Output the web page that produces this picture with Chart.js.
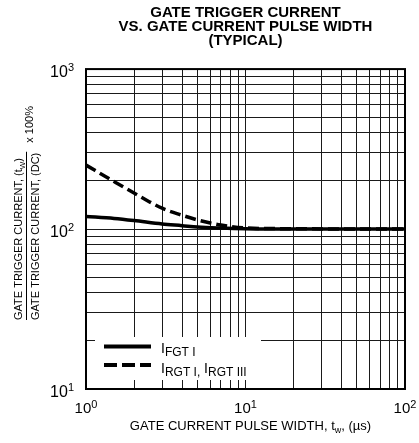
<!DOCTYPE html>
<html>
<head>
<meta charset="utf-8">
<script src="https://cdn.jsdelivr.net/npm/chart.js@4.4.1/dist/chart.umd.min.js"></script>
<style>
  html, body { margin: 0; padding: 0; background: #fff; }
  #wrap { width: 419px; height: 443px; }
</style>
</head>
<body>
<div id="wrap"><canvas id="c" width="419" height="443"></canvas></div>
<script>
// ---- data ----
const pulseWidth = [1, 1.5, 2, 3, 4, 5, 7, 10, 20, 50, 100];             // t_w (µs)
const fgtI       = [120, 116.5, 113, 107.5, 105, 103, 101.5, 100.5, 100, 100, 100];   // I_FGT I  (%)
const rgtI_III   = [251, 198, 168, 135, 122, 114, 106, 101.5, 100.5, 100, 100];       // I_RGT I, I_RGT III (%)

const xGridValues = [1, 2, 3, 4, 5, 6, 7, 8, 9, 10, 20, 30, 40, 50, 60, 70, 80, 90, 100];
const yGridValues = [10, 20, 30, 40, 50, 60, 70, 80, 90, 100, 200, 300, 400, 500, 600, 700, 800, 900, 1000];

const xTickValues = [1, 10, 100];
const xTickLabels = [['10', '0'], ['10', '1'], ['10', '2']];
const yTickValues = [10, 100, 1000];
const yTickLabels = [['10', '1'], ['10', '2'], ['10', '3']];

const titleLines = ['GATE TRIGGER CURRENT', 'VS. GATE CURRENT PULSE WIDTH', '(TYPICAL)'];
const legendLabels = [
  [['I', 'main'], ['FGT I', 'sub']],
  [['I', 'main'], ['RGT I,', 'sub'], [' I', 'main'], ['RGT III', 'sub']]
];
// ---------------------------------------

const FONT = '"Liberation Sans", Arial, Helvetica, sans-serif';

function drawRich(ctx, parts, x, y, align) {
  let w = 0;
  parts.forEach(p => { ctx.font = p.s + 'px ' + FONT; p.w = ctx.measureText(p.t).width; w += p.w; });
  let cx = align === 'center' ? x - w / 2 : (align === 'right' ? x - w : x);
  ctx.textAlign = 'left';
  ctx.textBaseline = 'alphabetic';
  parts.forEach(p => {
    ctx.font = p.s + 'px ' + FONT;
    ctx.fillText(p.t, cx, y + (p.dy || 0));
    cx += p.w;
  });
  return w;
}

const decorPlugin = {
  id: 'decor',
  afterDatasetsDraw(chart) {
    const ctx = chart.ctx;
    const a = chart.chartArea;
    const xs = chart.scales.x, ys = chart.scales.y;
    ctx.save();
    ctx.fillStyle = '#000';
    ctx.strokeStyle = '#000';

    // legend box
    const bx = a.left + 9, by = a.bottom - 52, bw = 166, bh = 43;
    ctx.fillStyle = '#fff';
    ctx.fillRect(bx, by, bw, bh);
    ctx.fillStyle = '#000';
    ctx.lineWidth = 4;
    ctx.lineCap = 'butt';
    ctx.setLineDash([]);
    ctx.beginPath();
    ctx.moveTo(a.left + 18, a.bottom - 42.5);
    ctx.lineTo(a.left + 65, a.bottom - 42.5);
    ctx.stroke();
    ctx.setLineDash([13, 5]);
    ctx.beginPath();
    ctx.moveTo(a.left + 18, a.bottom - 24);
    ctx.lineTo(a.left + 65, a.bottom - 24);
    ctx.stroke();
    ctx.setLineDash([]);
    const legY = [a.bottom - 36, a.bottom - 16];
    legendLabels.forEach((lab, i) => {
      const parts = lab.map(([t, k]) => k === 'main' ? { t, s: 14, dy: 0 } : { t, s: 12, dy: 3 });
      drawRich(ctx, parts, a.left + 75, legY[i], 'left');
    });

    // frame
    ctx.lineWidth = 2;
    ctx.strokeRect(a.left, a.top, a.right - a.left, a.bottom - a.top);

    // x tick labels
    xTickValues.forEach((v, i) => {
      const px = xs.getPixelForValue(v);
      drawRich(ctx, [{ t: xTickLabels[i][0], s: 15 }, { t: xTickLabels[i][1], s: 11, dy: -5 }], px, a.bottom + 24, 'center');
    });
    // y tick labels
    yTickValues.forEach((v, i) => {
      const py = ys.getPixelForValue(v);
      drawRich(ctx, [{ t: yTickLabels[i][0], s: 16 }, { t: yTickLabels[i][1], s: 11, dy: -6 }], a.left - 12, py + 8, 'right');
    });

    // x axis title
    drawRich(ctx, [
      { t: 'GATE CURRENT PULSE WIDTH, t', s: 13 },
      { t: 'w', s: 9, dy: 3 },
      { t: ', (\u00B5s)', s: 13 }
    ], (a.left + a.right) / 2 + 5, a.bottom + 41, 'center');

    // y axis title (rotated fraction)
    ctx.save();
    ctx.rotate(-Math.PI / 2);
    const startU = -(a.bottom - 69);   // screen y = 320
    const w1 = drawRich(ctx, [
      { t: 'GATE TRIGGER CURRENT, (t', s: 11 },
      { t: 'W', s: 8, dy: 3 },
      { t: ')', s: 11 }
    ], startU, 22, 'left');
    const w2 = drawRich(ctx, [{ t: 'GATE TRIGGER CURRENT, (DC)', s: 11 }], startU, 38.5, 'left');
    const wf = Math.max(w1, w2);
    ctx.lineWidth = 1;
    ctx.beginPath();
    ctx.moveTo(startU, 26.5);
    ctx.lineTo(startU + wf + 1, 26.5);
    ctx.stroke();
    drawRich(ctx, [{ t: 'x 100%', s: 11 }], startU + wf + 10, 33, 'left');
    ctx.restore();

    ctx.restore();
  }
};

new Chart(document.getElementById('c'), {
  type: 'line',
  data: {
    labels: pulseWidth,
    datasets: [
      {
        label: 'IFGT I',
        data: pulseWidth.map((x, i) => ({ x, y: fgtI[i] })),
        borderColor: '#000',
        borderWidth: 3.5,
        pointRadius: 0,
        cubicInterpolationMode: 'monotone',
        fill: false
      },
      {
        label: 'IRGT I, IRGT III',
        data: pulseWidth.map((x, i) => ({ x, y: rgtI_III[i] })),
        borderColor: '#000',
        borderWidth: 3.5,
        borderDash: [11, 5],
        pointRadius: 0,
        cubicInterpolationMode: 'monotone',
        fill: false
      }
    ]
  },
  options: {
    responsive: false,
    animation: false,
    events: [],
    layout: { padding: { left: 86, right: 14, top: 6, bottom: 54 } },
    plugins: {
      legend: { display: false },
      tooltip: { enabled: false },
      title: {
        display: true,
        fullSize: false,
        text: titleLines,
        color: '#000',
        font: { family: FONT, size: 15, weight: 'bold', lineHeight: 0.935 },
        padding: { top: 0, bottom: 21 }
      }
    },
    scales: {
      x: {
        type: 'logarithmic',
        min: 1, max: 100,
        afterBuildTicks: s => { s.ticks = xGridValues.map(v => ({ value: v })); },
        ticks: { display: false },
        border: { display: false },
        grid: { color: '#1a1a1a', lineWidth: 1, drawTicks: false }
      },
      y: {
        type: 'logarithmic',
        min: 10, max: 1000,
        afterBuildTicks: s => { s.ticks = yGridValues.map(v => ({ value: v })); },
        ticks: { display: false },
        border: { display: false },
        grid: { color: '#1a1a1a', lineWidth: 1, drawTicks: false }
      }
    }
  },
  plugins: [decorPlugin]
});
</script>
</body>
</html>
